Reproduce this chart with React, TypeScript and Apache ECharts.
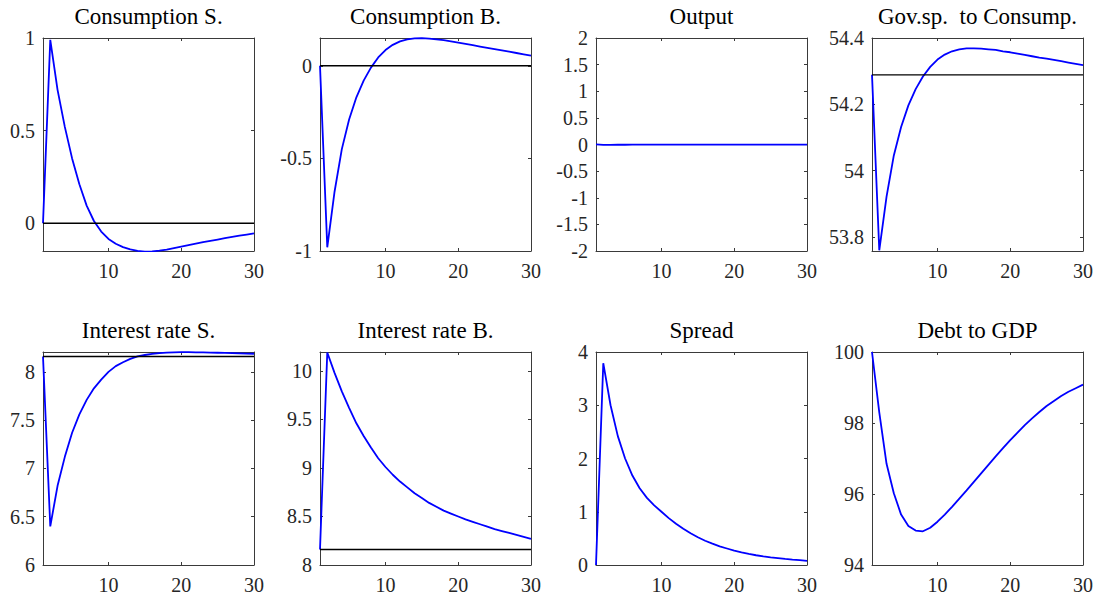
import React, { useEffect, useRef } from "react";
import * as echarts from "echarts";

const periods = [1, 2, 3, 4, 5, 6, 7, 8, 9, 10, 11, 12, 13, 14, 15, 16, 17, 18, 19, 20, 21, 22, 23, 24, 25, 26, 27, 28, 29, 30];

const titles = [
  "Consumption S.",
  "Consumption B.",
  "Output",
  "Gov.sp.  to Consump.",
  "Interest rate S.",
  "Interest rate B.",
  "Spread",
  "Debt to GDP",
];

const consumptionS = [0, 0.99, 0.72, 0.52, 0.35, 0.21, 0.095, 0.012, -0.045, -0.085, -0.111, -0.129, -0.141, -0.149, -0.153, -0.152, -0.148, -0.142, -0.134, -0.126, -0.118, -0.11, -0.102, -0.095, -0.088, -0.081, -0.074, -0.067, -0.061, -0.055];
const consumptionB = [0, -0.98, -0.68, -0.45, -0.29, -0.17, -0.08, -0.01, 0.045, 0.085, 0.113, 0.132, 0.143, 0.148, 0.149, 0.147, 0.143, 0.138, 0.132, 0.125, 0.118, 0.111, 0.104, 0.097, 0.09, 0.083, 0.076, 0.069, 0.062, 0.055];
const output = [0.004, -0.006, -0.006, -0.005, -0.005, -0.004, -0.004, -0.004, -0.003, -0.003, -0.003, -0.003, -0.002, -0.002, -0.002, -0.002, -0.002, -0.002, -0.001, -0.001, -0.001, -0.001, -0.001, -0.001, -0.001, -0.001, -0.001, -0.001, -0.001, -0.001];
const govToConsump = [54.289, 53.76, 53.922, 54.046, 54.132, 54.197, 54.246, 54.284, 54.313, 54.335, 54.35, 54.36, 54.366, 54.369, 54.369, 54.368, 54.366, 54.364, 54.36, 54.357, 54.353, 54.349, 54.345, 54.341, 54.338, 54.334, 54.33, 54.326, 54.322, 54.318];
const interestS = [8.16, 6.4, 6.82, 7.12, 7.37, 7.56, 7.71, 7.83, 7.92, 8.0, 8.06, 8.1, 8.135, 8.16, 8.175, 8.187, 8.195, 8.2, 8.203, 8.204, 8.204, 8.203, 8.202, 8.2, 8.198, 8.196, 8.194, 8.192, 8.19, 8.188];
const interestB = [8.16, 10.19, 9.98, 9.79, 9.62, 9.46, 9.33, 9.21, 9.1, 9.01, 8.93, 8.86, 8.8, 8.74, 8.69, 8.64, 8.6, 8.56, 8.53, 8.5, 8.47, 8.445, 8.42, 8.395, 8.37, 8.35, 8.33, 8.31, 8.29, 8.27];
const spread = [0, 3.79, 3.0, 2.42, 2.0, 1.68, 1.44, 1.26, 1.12, 1.0, 0.88, 0.775, 0.68, 0.595, 0.52, 0.455, 0.4, 0.35, 0.31, 0.27, 0.235, 0.207, 0.183, 0.163, 0.145, 0.13, 0.115, 0.102, 0.09, 0.078];
const debtToGdp = [100, 98.3, 96.85, 96.02, 95.42, 95.1, 94.97, 94.95, 95.05, 95.22, 95.42, 95.64, 95.87, 96.1, 96.34, 96.58, 96.82, 97.06, 97.29, 97.52, 97.73, 97.94, 98.13, 98.31, 98.48, 98.62, 98.76, 98.88, 98.98, 99.08];

const seriesValues = [consumptionS, consumptionB, output, govToConsump, interestS, interestB, spread, debtToGdp];

// steady-state reference lines (null = none)
const baselines = [0, 0, null, 54.289, 8.16, 8.16, null, null];

const yMins = [-0.15, -1, -2, 53.758, 6, 8, 0, 94];
const yMaxs = [1, 0.15, 2, 54.4, 8.206, 10.195, 4, 100];
const yTicks = [
  [0, 0.5, 1],
  [-1, -0.5, 0],
  [-2, -1.5, -1, -0.5, 0, 0.5, 1, 1.5, 2],
  [53.8, 54, 54.2, 54.4],
  [6, 6.5, 7, 7.5, 8],
  [8, 8.5, 9, 9.5, 10],
  [0, 1, 2, 3, 4],
  [94, 96, 98, 100],
];
const xMin = 1;
const xMax = 30;
const xTicks = [10, 20, 30];

const colLefts = [43, 320, 596, 872];
const rowTops = [38, 352];
const gridW = 211;
const gridH = 213;

const FONT = "Liberation Serif";
const AX = "#3a3a3a";
const LABEL = "#262626";

export default function App() {
  const ref = useRef<HTMLDivElement>(null);
  useEffect(() => {
    if (!ref.current) return;
    const chart = echarts.init(ref.current, undefined, { renderer: "svg" });
    const grids: any[] = [];
    const xAxes: any[] = [];
    const yAxes: any[] = [];
    const series: any[] = [];
    const graphic: any[] = [];
    for (let i = 0; i < 8; i++) {
      const left = colLefts[i % 4];
      const top = rowTops[Math.floor(i / 4)];
      grids.push({ left, top, width: gridW, height: gridH, containLabel: false });
      const axLine = { show: true, onZero: false, lineStyle: { color: AX, width: 1 } };
      xAxes.push({
        type: "value", gridIndex: i, position: "bottom", min: xMin, max: xMax,
        axisLine: axLine,
        axisTick: { show: true, inside: true, length: 3, customValues: xTicks, lineStyle: { color: AX } },
        axisLabel: { show: false },
        splitLine: { show: false },
      });
      xAxes.push({
        type: "value", gridIndex: i, position: "top", min: xMin, max: xMax,
        axisLine: axLine,
        axisTick: { show: true, inside: true, length: 3, customValues: xTicks, lineStyle: { color: AX } },
        axisLabel: { show: false },
        splitLine: { show: false },
      });
      yAxes.push({
        type: "value", gridIndex: i, position: "left", min: yMins[i], max: yMaxs[i],
        axisLine: axLine,
        axisTick: { show: true, inside: true, length: 3, customValues: yTicks[i], lineStyle: { color: AX } },
        axisLabel: { show: false },
        splitLine: { show: false },
      });
      yAxes.push({
        type: "value", gridIndex: i, position: "right", min: yMins[i], max: yMaxs[i],
        axisLine: axLine,
        axisTick: { show: true, inside: true, length: 3, customValues: yTicks[i], lineStyle: { color: AX } },
        axisLabel: { show: false },
        splitLine: { show: false },
      });
      const vals = seriesValues[i];
      series.push({
        type: "line", xAxisIndex: 2 * i, yAxisIndex: 2 * i,
        data: periods.map((p, k) => [p, vals[k]]),
        showSymbol: false, symbol: "none",
        lineStyle: { color: "#0000ff", width: 1.8 },
        z: 3,
      });
      const b = baselines[i];
      if (b !== null) {
        series.push({
          type: "line", xAxisIndex: 2 * i, yAxisIndex: 2 * i,
          data: [[periods[0], b], [periods[periods.length - 1], b]],
          showSymbol: false, symbol: "none",
          lineStyle: { color: "#000000", width: 1.4 },
          z: 4,
        });
      }

      // titles and tick labels as text elements, placed with ECharts' own linear mapping
      graphic.push({
        type: "text",
        x: left + gridW / 2,
        y: top - 33,
        style: { text: titles[i], fontFamily: FONT, fontSize: 23, fill: "#000", align: "center", verticalAlign: "alphabetic" },
      });
      const yAt = (v: number) => echarts.number.linearMap(v, [yMins[i], yMaxs[i]], [top + gridH, top], true);
      const xAt = (v: number) => echarts.number.linearMap(v, [xMin, xMax], [left, left + gridW], true);
      yTicks[i].forEach((v) => {
        graphic.push({
          type: "text",
          x: left - 8,
          y: yAt(v) - 10,
          style: { text: String(v), fontFamily: FONT, fontSize: 20, fill: LABEL, align: "right", verticalAlign: "alphabetic" },
        });
      });
      xTicks.forEach((v) => {
        graphic.push({
          type: "text",
          x: xAt(v),
          y: top + gridH + 10,
          style: { text: String(v), fontFamily: FONT, fontSize: 20, fill: LABEL, align: "center", verticalAlign: "alphabetic" },
        });
      });
    }
    chart.setOption({
      animation: false,
      backgroundColor: "#ffffff",
      textStyle: { fontFamily: FONT },
      graphic,
      grid: grids,
      xAxis: xAxes,
      yAxis: yAxes,
      series,
    });
    return () => chart.dispose();
  }, []);
  return (
    <div
      ref={ref}
      style={{ position: "absolute", left: 0, top: 0, width: 1097, height: 597 }}
    />
  );
}
